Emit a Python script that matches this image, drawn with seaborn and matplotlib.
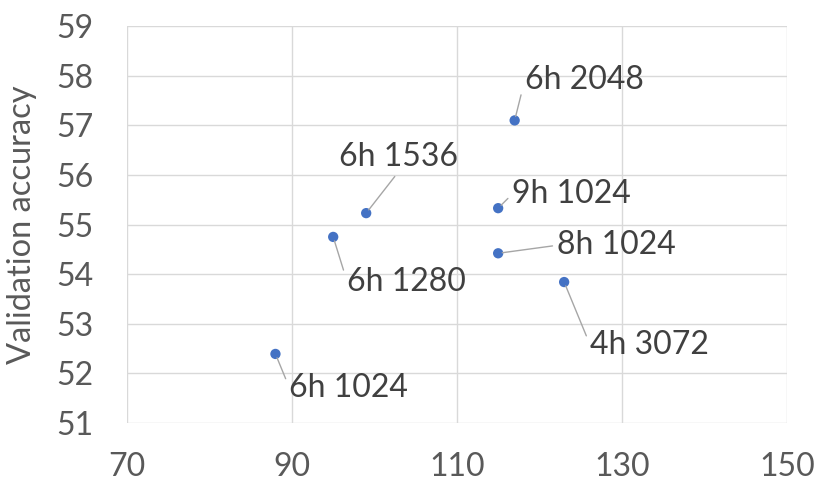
import pandas as pd
import matplotlib
matplotlib.use('Agg')
import seaborn as sns
import matplotlib.pyplot as plt

labels = ['6h 1024', '6h 1280', '6h 1536', '6h 2048', '9h 1024', '8h 1024', '4h 3072']
xvals = [88, 95, 99, 117, 115, 115, 123]
yvals = [52.39, 54.75, 55.23, 57.1, 55.33, 54.42, 53.84]

df = pd.DataFrame({'label': labels, 'x': xvals, 'y': yvals})

sns.set_style('white')
plt.rcParams['font.family'] = ['Lato', 'DejaVu Sans']

fig = plt.figure(figsize=(8.3, 5.04), dpi=100)
ax = fig.add_axes([0.153, 0.161, 0.795, 0.787])

sns.scatterplot(data=df, x='x', y='y', color='#4472C4', s=55,
                edgecolor='none', ax=ax, zorder=3)

# label offsets in pixels: (dx, dy, ha, relpos)
offsets = {
    '6h 1024': (14, -34, 'left', (0, 0.5)),
    '6h 1280': (14, -45, 'left', (0, 0.5)),
    '6h 1536': (32, 56, 'center', (0.5, 0)),
    '6h 2048': (10, 40, 'left', (0, 0.5)),
    '9h 1024': (14, 14, 'left', (0, 0.5)),
    '8h 1024': (59, 8, 'left', (0, 0.5)),
    '4h 3072': (26, -63, 'left', (0, 0.5)),
}
for _, r in df.iterrows():
    dx, dy, ha, rp = offsets[r['label']]
    ax.annotate(r['label'], (r['x'], r['y']), xytext=(dx, dy),
                textcoords='offset pixels', ha=ha, va='center',
                fontsize=23, color='#404040',
                arrowprops=dict(arrowstyle='-', color='#A6A6A6', lw=1,
                                relpos=rp, shrinkA=1, shrinkB=3))

ax.set_xlim(70, 150)
ax.set_ylim(51, 59)
ax.set_xticks([70, 90, 110, 130, 150])
ax.set_yticks(range(51, 60))
ax.grid(True, color='#D9D9D9', lw=1)
ax.set_axisbelow(True)
for s in ax.spines.values():
    s.set_visible(False)
ax.tick_params(axis='both', length=0, labelsize=23, labelcolor='#595959')
ax.tick_params(axis='x', pad=21)
ax.tick_params(axis='y', pad=24)
ax.set_xlabel('')
ax.set_ylabel('Validation accuracy', fontsize=23.5, color='#595959')
ax.yaxis.set_label_coords(-0.136, 0.5)

plt.savefig('out.png', dpi=100)
